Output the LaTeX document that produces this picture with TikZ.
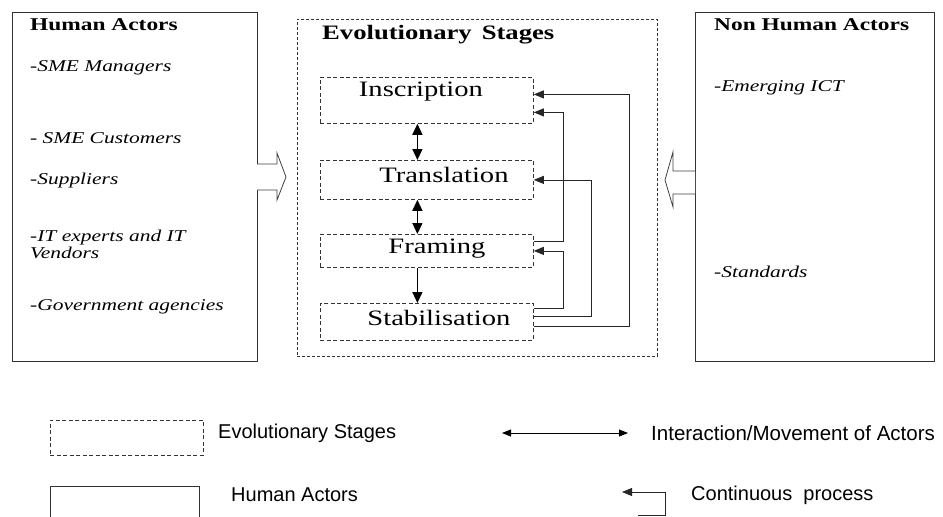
\documentclass[tikz,border=0pt]{standalone}
\usepackage{fontspec}
\setmainfont{Liberation Serif}[FakeStretch=1.3]
\newfontfamily\legendfont{Liberation Sans}
\usetikzlibrary{arrows.meta,positioning}

\begin{document}
\begin{tikzpicture}[x=1pt,y=-1pt,
		box/.style={draw=black!80, line width=0.8pt, inner sep=0pt, anchor=north west},
		stagebox/.style={box, dash pattern=on 4pt off 2.5pt, minimum width=213pt},
		stagename/.style={font=\fontsize{22}{24}\selectfont, inner sep=0pt},
		head/.style={font=\bfseries\fontsize{18}{20}\selectfont, anchor=west, inner sep=0pt},
		item/.style={font=\itshape\fontsize{16.5}{17}\selectfont, anchor=west, align=left, inner sep=0pt},
		legend/.style={font=\legendfont\fontsize{20}{22}\selectfont, anchor=west, inner sep=0pt},
		loop/.style={-{Triangle[length=10pt,width=8pt]}, line width=0.8pt, black!85},
		twoway/.style={{Triangle[length=11pt,width=10pt]}-{Triangle[length=11pt,width=10pt]}, line width=1.3pt},
		oneway/.style={-{Triangle[length=11pt,width=10pt]}, line width=1.3pt}]
		\useasboundingbox (0,0) rectangle (943,517);
		%		\draw[lightgray] (0,0) grid[step=50] (943,517);
		
		\node[box, minimum width=245pt, minimum height=349pt] (human) at (12,12) {}; % human actors
		\node[box, minimum width=239pt, minimum height=349pt] (nonhuman) at (695,12) {}; % non human actors
		\node[box, dash pattern=on 3pt off 2pt, minimum width=360pt, minimum height=337pt] (stages) at (297,19) {};
		
		\node[head] (human-t) at (30,25) {Human Actors};
		\node[item] (sme-m) at (30,68) {-SME Managers};
		\node[item] (sme-c) at (30,138) {- SME Customers};
		\node[item] (supp) at (30,181) {-Suppliers};
		\node[item] (itexp) at (30,244) {-IT experts and IT\\Vendors};
		\node[item] (gov) at (30,307) {-Government agencies};
		
		\node[head] (nonhuman-t) at (714,25) {Non Human Actors};
		\node[item] (ict) at (714,88) {-Emerging ICT};
		\node[item] (std) at (714,272) {-Standards};
		
		\node[head, font=\bfseries\fontsize{20.5}{22}\selectfont] (stages-t) at (322,35) {Evolutionary\hspace{10pt}Stages};
		
		% stages
		\node[stagebox, minimum height=46pt] (ins) at (320,77) {};
		\node[stagebox, minimum height=39pt] (trn) at (320,160) {};
		\node[stagebox, minimum height=33pt] (frm) at (320,234) {};
		\node[stagebox, minimum height=37pt] (stb) at (320,303) {};
		\node[stagename] (ins-t) at ([xshift=-6pt,yshift=9pt]ins.center) {Inscription};
		\node[stagename] (trn-t) at ([xshift=17pt,yshift=5pt]trn.center) {Translation};
		\node[stagename] (frm-t) at ([xshift=10pt,yshift=2pt]frm.center) {Framing};
		\node[stagename] (stb-t) at ([xshift=12pt,yshift=4pt]stb.center) {Stabilisation};
		
		\draw[twoway] ([xshift=-9.5pt]ins.south) -- ([xshift=-9.5pt]trn.north);
		\draw[twoway] ([xshift=-9.5pt]trn.south) -- ([xshift=-9.5pt]frm.north);
		\draw[oneway] ([xshift=-9.5pt]frm.south) -- ([xshift=-9.5pt]stb.north);
		
		% continuous process
		\draw[loop] ([yshift=9.5pt]frm.east) -- ++(30,0) |- ([yshift=-12pt]ins.east);
		\draw[loop] ([yshift=13.5pt]stb.east) -- ++(30,0) |- (frm.east);
		\draw[loop] ([yshift=5.5pt]stb.east) -- ++(58,0) |- (trn.east);
		\draw[loop] ([yshift=-4.5pt]stb.east) -- ++(96,0) |- ([yshift=6pt]ins.east);
		
		% hollow arrows
		\draw[black!75, line width=0.8pt, fill=white] (257,164) -- (277,164) -- (277,153) -- (286,177)
		-- (277,200) -- (277,190) -- (257,190);
		\draw[black!75, line width=0.8pt, fill=white] (695,171) -- (673,171) -- (673,152) -- (665,180)
		-- (673,207) -- (673,194) -- (695,194);
		
		% legend
		\node[box, dash pattern=on 4pt off 2.5pt, minimum width=153pt, minimum height=35pt] (lg-stage) at (50,420) {};
		\node[legend] (lg-stage-t) at (218,433) {Evolutionary Stages};
		\coordinate (lg-a) at (502,433);
		\coordinate (lg-b) at (628,433);
		\draw[{Triangle[length=9pt,width=7pt]}-{Triangle[length=9pt,width=7pt]}, line width=0.8pt] (lg-a) -- (lg-b);
		\node[legend, font=\legendfont\fontsize{20.5}{22}\selectfont] (lg-move-t) at (651,433) {Interaction/Movement of Actors};
		\node[box, minimum width=149pt, minimum height=40pt] (lg-human) at (50,486) {};
		\node[legend] (lg-human-t) at (231,495) {Human Actors};
		\coordinate (lg-c) at (638,515);
		\coordinate (lg-d) at (622,492);
		\draw[loop] (lg-c) -- ++(27,0) |- (lg-d);
		\node[legend] (lg-loop-t) at (691,495) {Continuous~ process};
		
\end{tikzpicture}
\end{document}
